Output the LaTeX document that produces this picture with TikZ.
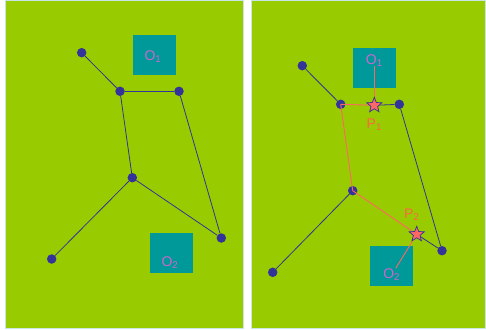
\documentclass[tikz,border=0pt]{standalone}
\usepackage{fontspec}
\setmainfont{Liberation Sans}
\usetikzlibrary{shapes.geometric}
\definecolor{bg}{HTML}{99CC00}
\definecolor{boxc}{HTML}{009999}
\definecolor{dotc}{HTML}{333399}
\definecolor{redl}{HTML}{FF6666}
\definecolor{olab}{HTML}{CC66CC}
\definecolor{plab}{HTML}{FF6644}
\definecolor{edge}{HTML}{C8E6E6}
\tikzset{
  panel/.style={fill=bg, draw=edge, line width=1pt},
  obox/.style={fill=boxc, draw=none, minimum width=43pt, minimum height=40pt, inner sep=0pt},
  vtx/.style={circle, fill=dotc, minimum size=9.5pt, inner sep=0pt},
  olabel/.style={text=olab, font=\fontsize{14pt}{16pt}\selectfont, inner sep=0pt},
  plabel/.style={text=plab, font=\fontsize{14pt}{16pt}\selectfont, inner sep=0pt},
  bl/.style={draw=dotc, line width=0.8pt},
  rl/.style={draw=redl, line width=0.9pt},
  pstar/.style={star, star points=5, star point ratio=2.3, minimum size=16pt, inner sep=0pt, fill=redl, draw=dotc, line width=0.7pt}
}
\begin{document}
\begin{tikzpicture}[x=1pt,y=-1pt]
\useasboundingbox (0,0) rectangle (486,329);
\fill[white] (0,0) rectangle (486,329);
% panels
\path[panel] (5,1) rectangle (243,328);
\path[panel] (251.5,1) rectangle (485.5,328);

% ---------- left panel ----------
\node[obox] (lo1) at (154,54.7) {};
\node[obox] (lo2) at (171,252.7) {};
\node[olabel] (lo1t) at (153,56.7) {O\textsubscript{1}};
\node[olabel] (lo2t) at (170,263) {O\textsubscript{2}};
\node[vtx] (la) at (81.7,52.7) {};
\node[vtx] (lb) at (120,91.3) {};
\node[vtx] (lc) at (179,91.3) {};
\node[vtx] (ld) at (132.3,177.7) {};
\node[vtx] (le) at (51.7,259) {};
\node[vtx] (lf) at (221.3,238) {};
\draw[bl] (la) -- (lb);
\draw[bl] (lb) -- (lc);
\draw[bl] (lb) -- (ld);
\draw[bl] (ld) -- (le);
\draw[bl] (ld) -- (lf);
\draw[bl] (lc) -- (lf);

% ---------- right panel ----------
\node[obox] (ro1) at (374.3,67.8) {};
\node[obox] (ro2) at (391.3,265.8) {};
\node[olabel] (ro1t) at (374.3,60.7) {O\textsubscript{1}};
\node[olabel] (ro2t) at (391.7,275) {O\textsubscript{2}};
\node[vtx] (ra) at (302.3,65.7) {};
\node[vtx] (rb) at (340.7,104.3) {};
\node[vtx] (rc) at (399.3,104.3) {};
\node[vtx] (rd) at (352.7,190.7) {};
\node[vtx] (re) at (272.7,272.3) {};
\node[vtx] (rf) at (442,250.7) {};
\coordinate (p1) at (374.3,105.3);
\coordinate (p2) at (416.7,234.3);
\coordinate (o1end) at (374.3,66);
\coordinate (o2end) at (395.7,268.3);
\draw[bl] (ra) -- (rb);
\draw[bl] (p1) -- (rc);
\draw[bl] (rd) -- (re);
\draw[bl] (p2) -- (rf);
\draw[bl] (rc) -- (rf);
\draw[rl] (o1end) -- (p1);
\draw[rl] (p1) -- (rb.center);
\draw[rl] (rb.center) -- (rd.center);
\draw[rl] (rd.center) -- (p2);
\draw[rl] (p2) -- (o2end);
\node[pstar] (s1) at (p1) {};
\node[pstar] (s2) at (p2) {};
\node[plabel] (p1t) at (374.3,125) {P\textsubscript{1}};
\node[plabel] (p2t) at (411.7,215) {P\textsubscript{2}};
\end{tikzpicture}
\end{document}
